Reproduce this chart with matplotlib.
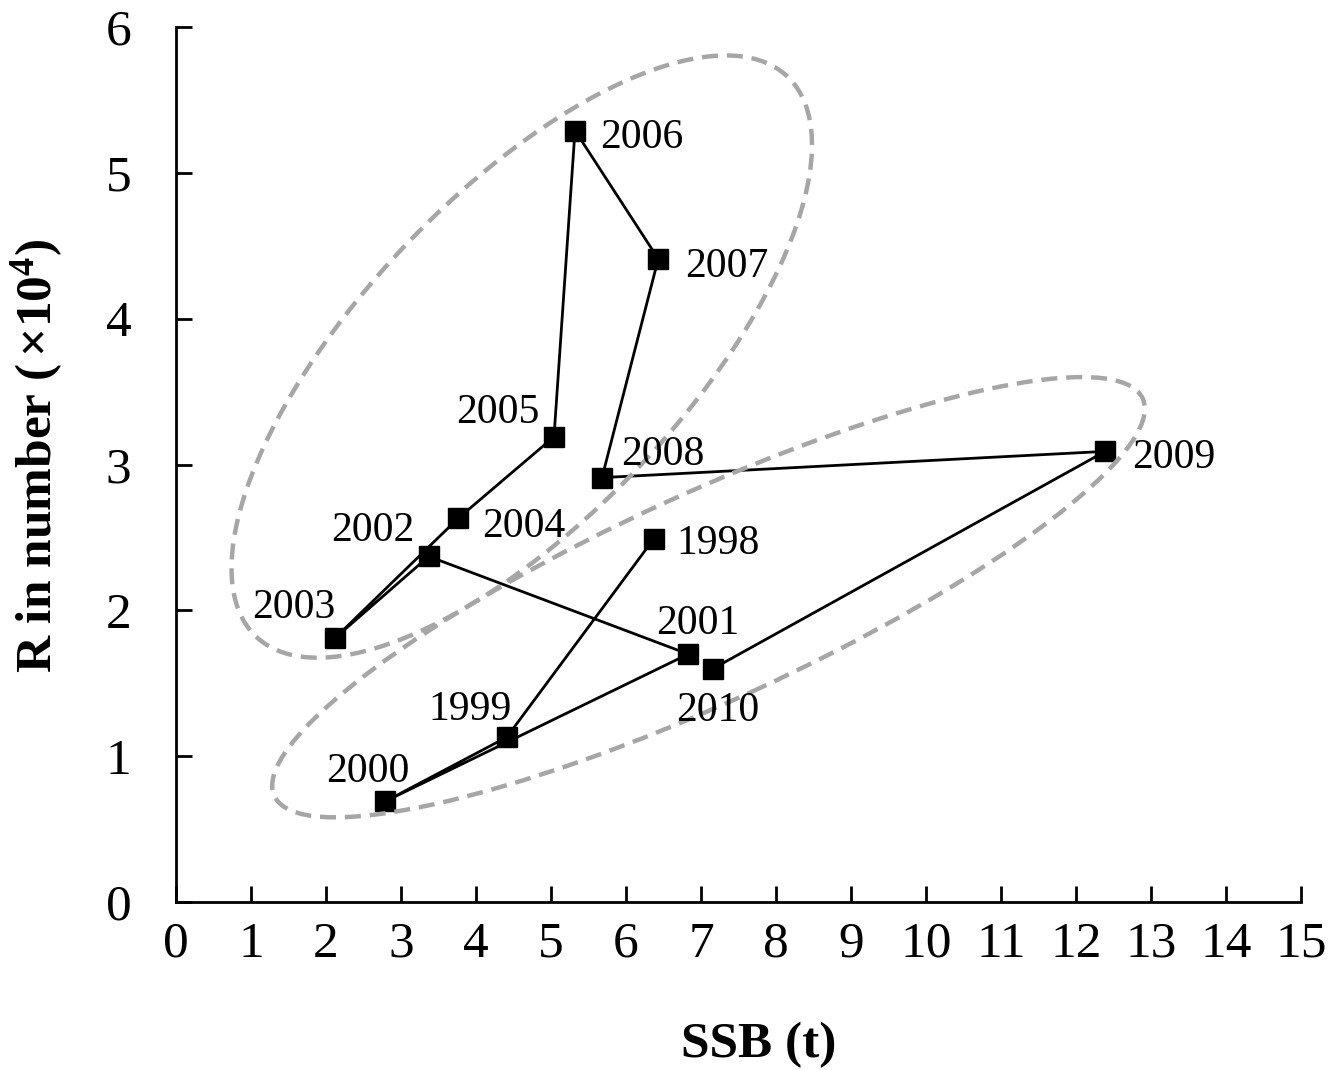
import matplotlib
matplotlib.use("Agg")
import matplotlib.pyplot as plt
from matplotlib.patches import Ellipse
from matplotlib.transforms import ScaledTranslation

# ==========================================
# DATI
# ==========================================

YEARS = [1998, 1999, 2000, 2001, 2002, 2003, 2004,
         2005, 2006, 2007, 2008, 2009, 2010]
SSB   = [6.37, 4.41, 2.79, 6.83, 3.37, 2.12, 3.76,
         5.04, 5.32, 6.43, 5.68, 12.39, 7.16]
R     = [2.49, 1.13, 0.69, 1.70, 2.37, 1.81, 2.63,
         3.19, 5.29, 4.41, 2.91, 3.09, 1.60]

X_TICKS = list(range(0, 16))
Y_TICKS = list(range(0, 7))

# posizione etichette anni: (ha, dx px, dy px)
LABEL_POS = {
    1998: ('left',   23,   0),
    1999: ('center', -37,  32),
    2000: ('center', -17,  34),
    2001: ('center',   9,  35),
    2002: ('right',  -14,  30),
    2003: ('right',    0,  35),
    2004: ('left',    24,  -4),
    2005: ('right',  -14,  29),
    2006: ('left',    25,  -3),
    2007: ('left',    27,  -3),
    2008: ('left',    19,  27),
    2009: ('left',    27,  -2),
    2010: ('center',   5, -38),
}

# ellissi tratteggiate: centro (dati), larghezza/altezza (pollici), angolo
ELLISSI = [
    ((4.61, 3.74), 7.72, 3.22, 46.5),
    ((7.10, 2.09), 9.55, 2.08, 24.6),
]

GRIGIO = '#A6A6A6'
FONT   = 'Liberation Serif'

plt.rcParams['font.family'] = FONT
plt.rcParams['mathtext.fontset'] = 'custom'
plt.rcParams['mathtext.rm'] = 'Liberation Serif:bold'
plt.rcParams['mathtext.bf'] = 'Liberation Serif:bold'
plt.rcParams['mathtext.it'] = 'Liberation Serif:bold'

fig = plt.figure(figsize=(13.34, 10.70), dpi=100)
ax = fig.add_axes([176 / 1334, 1 - 902 / 1070, 1125 / 1334, 875 / 1070])

# ── serie ─────────────────────────────────────────────
ax.plot(SSB, R, color='black', linewidth=2, marker='s', markersize=14,
        markerfacecolor='black', markeredgecolor='black', zorder=2)

# ── ellissi ───────────────────────────────────────────
for (cx, cy), w, h, ang in ELLISSI:
    trans = fig.dpi_scale_trans + ScaledTranslation(cx, cy, ax.transData)
    e = Ellipse((0, 0), w, h, angle=ang, transform=trans, fill=False,
                edgecolor=GRIGIO, linewidth=3.2, linestyle=(0, (3.6, 2.0)),
                zorder=3)
    ax.add_patch(e)

# ── etichette anni ────────────────────────────────────
for yr, x, y in zip(YEARS, SSB, R):
    ha, dx, dy = LABEL_POS[yr]
    ax.annotate(str(yr), (x, y), xytext=(dx * 0.72, dy * 0.72),
                textcoords='offset points', ha=ha, va='center_baseline',
                fontsize=30, zorder=4)

# ── assi ──────────────────────────────────────────────
ax.set_xlim(0, 15)
ax.set_ylim(0, 6)
ax.set_xticks(X_TICKS)
ax.set_yticks(Y_TICKS)
ax.spines['top'].set_visible(False)
ax.spines['right'].set_visible(False)
for s in ('left', 'bottom'):
    ax.spines[s].set_linewidth(2)
ax.tick_params(axis='both', direction='in', length=11.5, width=2,
               labelsize=37)
ax.tick_params(axis='x', pad=14)
ax.tick_params(axis='y', pad=32)

ax.set_xlabel('SSB (t)', fontsize=37, fontweight='bold')
ax.xaxis.set_label_coords(0.518, -0.137)
ax.set_ylabel(r'R in number ($\,$×10$^4$)', fontsize=37, fontweight='bold')
ax.yaxis.set_label_coords(-0.099, 0.51)

fig.savefig('out.png', dpi=100)
